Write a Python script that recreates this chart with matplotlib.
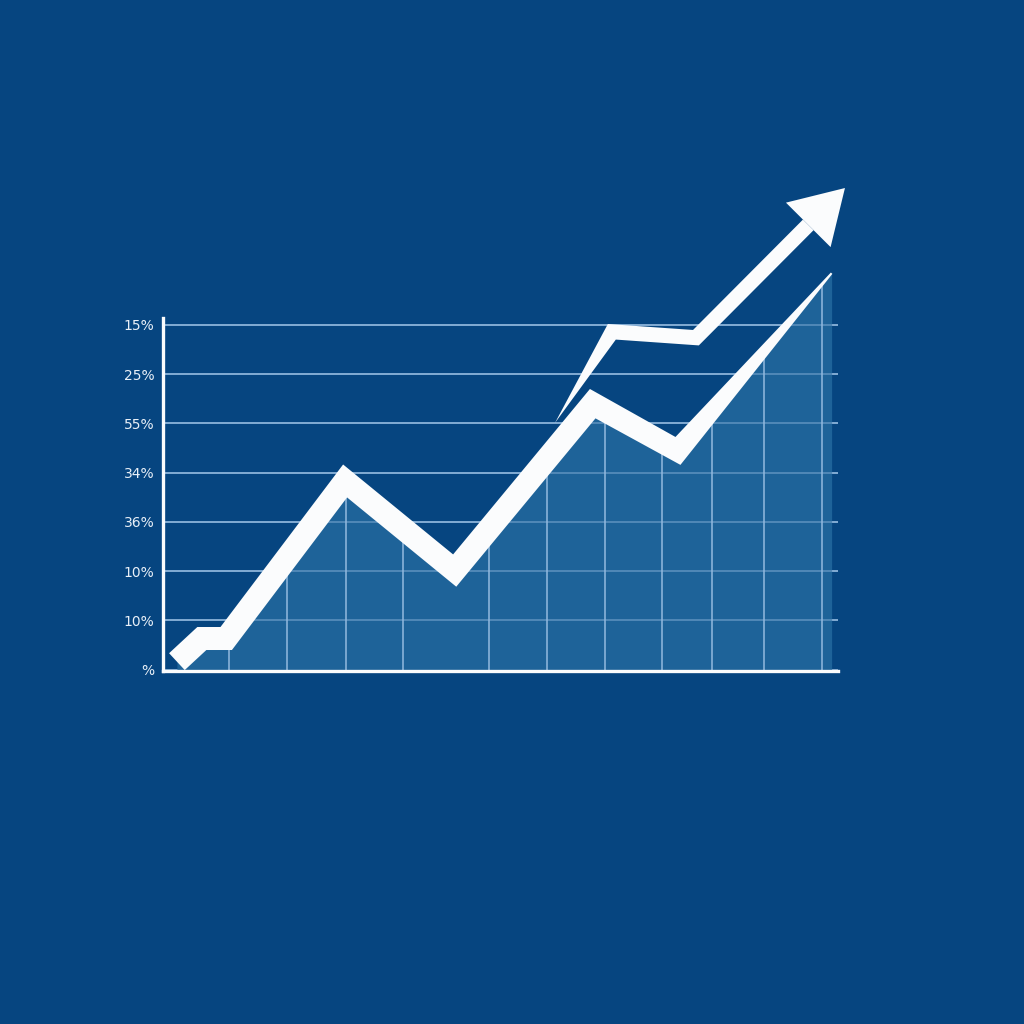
import numpy as np
import matplotlib
matplotlib.use("Agg")
import matplotlib.pyplot as plt
from matplotlib.patches import Polygon

# main trend line (centre of the thick white stroke)
line_x = [0.24, 0.67, 1.09, 3.14, 5.03, 7.41, 8.88, 11.53]
line_y = [0.16, 0.63, 0.63, 3.83, 2.01, 5.40, 4.44, 8.05]

# upper arrow path, last point is the arrow tip
arrow_x = [6.76, 7.74, 9.19, 11.76]
arrow_y = [5.01, 6.86, 6.74, 9.78]

# vertical grid lines drawn only inside the filled area
grid_x = [1.14, 2.14, 3.15, 4.14, 5.63, 6.62, 7.62, 8.60, 9.46, 10.36, 11.36]

y_ticks = [0, 1, 2, 3, 4, 5, 6, 7]
y_labels = ["%", "10%", "10%", "36%", "34%", "55%", "25%", "15%"]

BG = "#064580"
FILL = "#1e6399"
GRID = "#93badf"
WHITE = "#fbfcfd"


def unit(v):
    return v / np.hypot(v[0], v[1])


def ribbon(ax, xs, ys, widths, **kw):
    # thick stroke with mitred joints and per-vertex width (pixels)
    pts = ax.transData.transform(np.column_stack([xs, ys]))
    n = len(pts)
    left, right = [], []
    for i in range(n):
        if i == 0:
            t = unit(pts[1] - pts[0])
            scale = 1.0
        elif i == n - 1:
            t = unit(pts[-1] - pts[-2])
            scale = 1.0
        else:
            d1 = unit(pts[i] - pts[i - 1])
            d2 = unit(pts[i + 1] - pts[i])
            t = unit(d1 + d2)
            n1 = np.array([-d1[1], d1[0]])
            nt = np.array([-t[1], t[0]])
            scale = 1.0 / max(np.dot(nt, n1), 0.2)
        nrm = np.array([-t[1], t[0]])
        off = nrm * widths[i] / 2 * scale
        left.append(pts[i] + off)
        right.append(pts[i] - off)
    poly = np.array(left + right[::-1])
    poly = ax.transData.inverted().transform(poly)
    ax.add_patch(Polygon(poly, closed=True, clip_on=False, lw=0, **kw))


fig = plt.figure(figsize=(10.24, 10.24), dpi=100, facecolor=BG)
ax = fig.add_axes([163 / 1024, 353 / 1024, 675 / 1024, 353 / 1024])
ax.set_facecolor("none")
ax.set_xlim(0, 11.64)
ax.set_ylim(-0.03, 7.14)

ax.set_yticks(y_ticks)
ax.set_yticklabels(y_labels)
ax.set_xticks([])
ax.tick_params(axis="y", length=0, pad=6, labelsize=10, labelcolor="#e9f0f8")
ax.grid(axis="y", color=GRID, lw=1.1, zorder=1)
ax.set_axisbelow(True)

for s in ["top", "right"]:
    ax.spines[s].set_visible(False)
for s in ["left", "bottom"]:
    ax.spines[s].set_color(WHITE)
    ax.spines[s].set_linewidth(2.4)
    ax.spines[s].set_zorder(6)

# filled area under the trend
ax.fill_between(line_x, 0, line_y, color=FILL, lw=0, zorder=2, clip_on=False)
tops = np.interp(grid_x, line_x, line_y)
ax.vlines(grid_x, 0, tops, color=GRID, lw=1.1, zorder=3, clip_on=False)
ax.hlines(y_ticks[1:], 0, 11.64, color=GRID, lw=1.1, zorder=3, alpha=0.55)

# thick white trend line, tapering at the end
ribbon(ax, line_x, line_y, [23, 23, 23, 23, 23, 23, 22, 2], color=WHITE, zorder=5)

# arrow: tapered shaft + triangular head
tip = ax.transData.transform((arrow_x[-1], arrow_y[-1]))
prev = ax.transData.transform((arrow_x[-2], arrow_y[-2]))
d = unit(tip - prev)
base = tip - d * 52
bx, by = ax.transData.inverted().transform(base)
ribbon(ax, arrow_x[:-1] + [bx], arrow_y[:-1] + [by], [0, 15, 15, 15], color=WHITE, zorder=5)
nrm = np.array([-d[1], d[0]])
head = np.array([tip, base + nrm * 31.5, base - nrm * 31.5])
head = ax.transData.inverted().transform(head)
ax.add_patch(Polygon(head, closed=True, clip_on=False, lw=0, color=WHITE, zorder=5))

fig.savefig("out.png", dpi=100, facecolor=BG)
